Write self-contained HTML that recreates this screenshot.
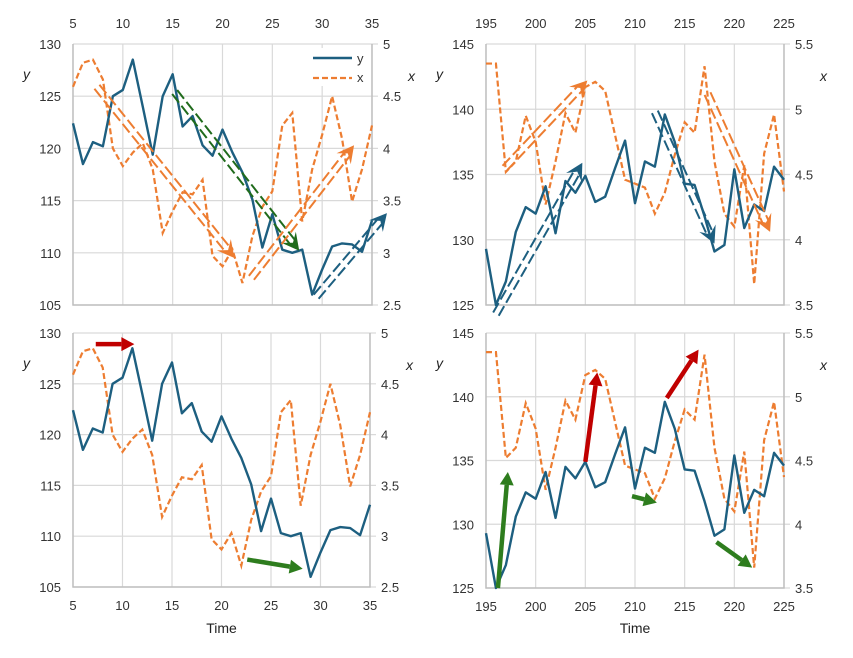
<!DOCTYPE html>
<html><head><meta charset="utf-8"><style>
html,body{margin:0;padding:0;background:#fff;}
svg{display:block;font-family:"Liberation Sans",sans-serif;}
</style></head><body>
<svg id="c" width="853" height="658" xmlns="http://www.w3.org/2000/svg"></svg>
<script>
const timeA=[5,6,7,8,9,10,11,12,13,14,15,16,17,18,19,20,21,22,23,24,25,26,27,28,29,30,31,32,33,34,35];
const yA=[122.4,118.5,120.6,120.2,125,125.6,128.5,124,119.4,125,127.1,122.1,123.1,120.3,119.3,121.8,119.6,117.7,115.1,110.5,113.7,110.3,110,110.3,106,108.4,110.6,110.9,110.8,110.1,113.1];
const xA=[4.59,4.82,4.85,4.66,4.0,3.83,3.96,4.05,3.8,3.19,3.4,3.58,3.56,3.7,2.97,2.87,3.03,2.71,3.16,3.44,3.59,4.22,4.34,3.3,3.8,4.13,4.5,4.09,3.49,3.8,4.22];
const timeB=[195,196,197,198,199,200,201,202,203,204,205,206,207,208,209,210,211,212,213,214,215,216,217,218,219,220,221,222,223,224,225];
const yB=[129.3,125,126.8,130.6,132.5,132,134.1,130.5,134.5,133.6,134.9,132.9,133.3,135.5,137.6,132.8,136,135.6,139.6,137.5,134.3,134.2,131.8,129.1,129.6,135.4,130.9,132.7,132.2,135.6,134.6];
const xB=[5.35,5.35,4.52,4.6,4.95,4.75,4.27,4.6,4.97,4.82,5.17,5.21,5.14,4.8,4.46,4.43,4.4,4.2,4.36,4.65,4.9,4.82,5.33,4.6,4.2,4.1,4.57,3.66,4.66,4.96,4.37];
const ticksA=[5,10,15,20,25,30,35];
const ticksB=[195,200,205,210,215,220,225];
const yTicksA=[105,110,115,120,125,130];
const yTicksB=[125,130,135,140,145];
const xTicksA=[2.5,3,3.5,4,4.5,5];
const xTicksB=[3.5,4,4.5,5,5.5];

const NS="http://www.w3.org/2000/svg";
const svg=document.getElementById('c');
function el(tag,attrs,parent){const e=document.createElementNS(NS,tag);for(const k in attrs)e.setAttribute(k,attrs[k]);(parent||svg).appendChild(e);return e;}
const BLUE="#1d5f80",ORANGE="#ed7d31",GREEN="#2e7d1e",DGREEN="#206b1c",RED="#c00000";

function panel(cfg){
  const g=el('g',{});
  
  
  const sx=v=>cfg.x0+(v-cfg.t[0])/(cfg.t[1]-cfg.t[0])*(cfg.x1-cfg.x0);
  const sy=v=>cfg.y1-(v-cfg.yl[0])/(cfg.yl[1]-cfg.yl[0])*(cfg.y1-cfg.y0);
  const sr=v=>cfg.y1-(v-cfg.xr[0])/(cfg.xr[1]-cfg.xr[0])*(cfg.y1-cfg.y0);
  cfg.ticks.forEach(t=>{
    const l=el('line',{x1:sx(t),x2:sx(t),y1:cfg.y0,y2:cfg.y1,stroke:"#d9d9d9","stroke-width":1.2},g);
    
    const tx=el('text',{x:sx(t),y:cfg.top?cfg.y0-16:cfg.y1+23,"text-anchor":"middle","font-size":13,fill:"#333"},g);
    tx.textContent=t;
    
  });
  cfg.yt.forEach(t=>{
    const l=el('line',{x1:cfg.x0,x2:cfg.x1+6,y1:sy(t),y2:sy(t),stroke:"#d9d9d9","stroke-width":1.2},g);
    
    const tx=el('text',{x:cfg.x0-12,y:sy(t)+5,"text-anchor":"end","font-size":13,fill:"#333"},g);
    tx.textContent=t;
    
  });
  cfg.xt.forEach(t=>{
    const tx=el('text',{x:cfg.x1+11,y:sr(t)+5,"text-anchor":"start","font-size":13,fill:"#333"},g);
    tx.textContent=t;
    
  });
  const ax=el('path',{d:`M${cfg.x0},${cfg.y0}V${cfg.y1}H${cfg.x1}V${cfg.y0}`,fill:"none",stroke:"#bfbfbf","stroke-width":1.5},g);
  
  const yl=el('text',{x:cfg.x0-50,y:cfg.y0+35,"font-size":14,"font-style":"italic",fill:"#222"},g);
  yl.textContent='y';
  const xl=el('text',{x:cfg.x1+36,y:cfg.y0+37,"font-size":14,"font-style":"italic",fill:"#222"},g);
  xl.textContent='x';
  if(!cfg.top){
    const tl=el('text',{x:(cfg.x0+cfg.x1)/2,y:633,"text-anchor":"middle","font-size":14,fill:"#222"},g);
    tl.textContent='Time';
  }
  const px=el('polyline',{points:cfg.time.map((t,i)=>sx(t)+','+sr(cfg.xs[i])).join(' '),fill:"none",stroke:ORANGE,"stroke-width":2.2,"stroke-dasharray":"6,3"},g);
  
  const py=el('polyline',{points:cfg.time.map((t,i)=>sx(t)+','+sy(cfg.ys[i])).join(' '),fill:"none",stroke:BLUE,"stroke-width":2.4,"stroke-linejoin":"round"},g);
  
  (cfg.arrows||[]).forEach(a=>{
    const X1=sx(a[0]),Y1=sy(a[1]),X2=sx(a[2]),Y2=sy(a[3]);
    const dx=X2-X1,dy=Y2-Y1,L=Math.hypot(dx,dy),ux=dx/L,uy=dy/L,nx=-uy,ny=ux;
    const ag=el('g',{},g);
    
    if(a[5]==='double'){
      const hl=17,bx=X2-ux*hl*0.7,by=Y2-uy*hl*0.7;
      [-3.2,3.2].forEach(o=>{
        el('line',{x1:X1+nx*o,y1:Y1+ny*o,x2:bx+nx*o,y2:by+ny*o,stroke:a[4],"stroke-width":2,"stroke-dasharray":"11,4"},ag);
      });
      el('polygon',{points:`${X2},${Y2} ${X2-ux*hl+nx*9},${Y2-uy*hl+ny*9} ${X2-ux*hl*0.6},${Y2-uy*hl*0.6} ${X2-ux*hl-nx*9},${Y2-uy*hl-ny*9}`,fill:a[4]},ag);
    } else {
      const hl=13,bx=X2-ux*hl,by=Y2-uy*hl;
      el('line',{x1:X1,y1:Y1,x2:bx,y2:by,stroke:a[4],"stroke-width":4.5},ag);
      el('polygon',{points:`${X2},${Y2} ${bx+nx*7},${by+ny*7} ${bx-nx*7},${by-ny*7}`,fill:a[4]},ag);
    }
  });
  return g;
}

panel({name:'panel-top-left',x0:73,x1:372,y0:44,y1:305,t:[5,35],yl:[105,130],xr:[2.5,5],ticks:ticksA,yt:yTicksA,xt:xTicksA,time:timeA,ys:yA,xs:xA,top:true,
 arrows:[[7.4,125.9,21.2,109.5,ORANGE,'double'],[15.2,125.4,27.7,110.2,DGREEN,'double'],[22.9,107.6,33.2,120.3,ORANGE,'double'],[29.4,105.8,36.5,113.8,BLUE,'double']]});
panel({name:'panel-top-right',x0:486,x1:784,y0:44,y1:305,t:[195,225],yl:[125,145],xr:[3.5,5.5],ticks:ticksB,yt:yTicksB,xt:xTicksB,time:timeB,ys:yB,xs:xB,top:true,
 arrows:[[196.9,135.5,205.2,142.2,ORANGE,'double'],[196.0,124.3,204.7,135.9,BLUE,'double'],[212.0,139.8,218.0,129.7,BLUE,'double'],[217.3,141.2,223.6,130.6,ORANGE,'double']]});
panel({name:'panel-bottom-left',x0:73,x1:370,y0:333,y1:587,t:[5,35],yl:[105,130],xr:[2.5,5],ticks:ticksA,yt:yTicksA,xt:xTicksA,time:timeA,ys:yA,xs:xA,top:false,
 arrows:[[7.3,128.9,11.2,128.9,RED,'solid'],[22.6,107.7,28.2,106.8,GREEN,'solid']]});
panel({name:'panel-bottom-right',x0:486,x1:784,y0:333,y1:588,t:[195,225],yl:[125,145],xr:[3.5,5.5],ticks:ticksB,yt:yTicksB,xt:xTicksB,time:timeB,ys:yB,xs:xB,top:false,
 arrows:[[196.2,125,197.2,134.1,GREEN,'solid'],[205,134.9,206.2,141.9,RED,'solid'],[209.7,132.2,212.2,131.7,GREEN,'solid'],[213.2,139.9,216.4,143.7,RED,'solid'],[218.2,128.6,221.8,126.6,GREEN,'solid']]});

const lg=el('g',{});


el('rect',{x:305,y:48,width:60,height:38,fill:"#fff"},lg);
const l1=el('line',{x1:313,x2:352,y1:58,y2:58,stroke:BLUE,"stroke-width":2.4},lg);


const t1=el('text',{x:357,y:63,"font-size":13,fill:"#333"},lg);t1.textContent='y';
const l2=el('line',{x1:313,x2:352,y1:78,y2:78,stroke:ORANGE,"stroke-width":2.2,"stroke-dasharray":"6,3"},lg);


const t2=el('text',{x:357,y:82,"font-size":13,fill:"#333"},lg);t2.textContent='x';
</script>
</body></html>
